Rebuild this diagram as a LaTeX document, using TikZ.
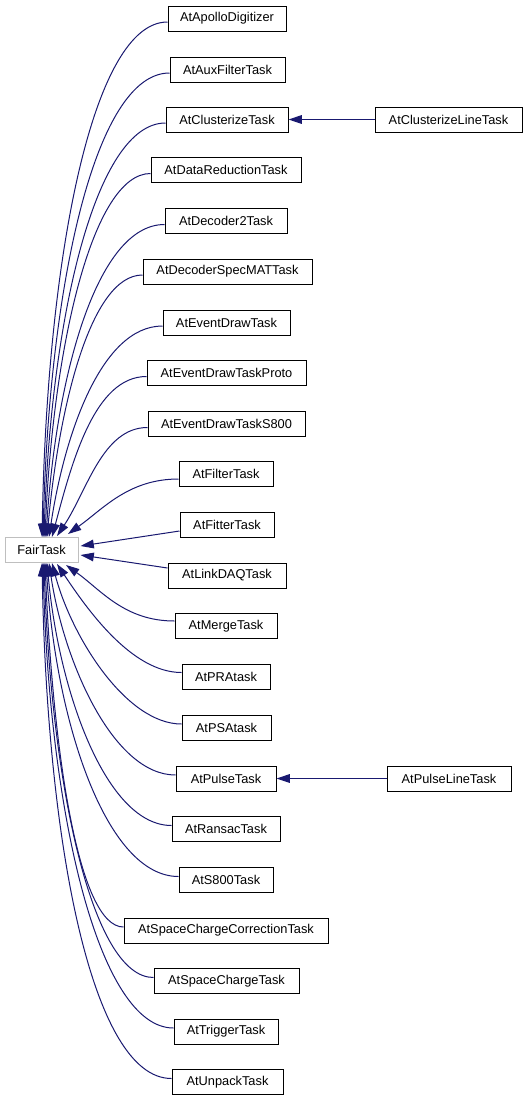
\documentclass[tikz,border=0pt]{standalone}
\usepackage{fontspec}
\setmainfont{Liberation Sans}
\usetikzlibrary{arrows.meta, calc}
\definecolor{EdgeBlue}{RGB}{25, 25, 112}
\definecolor{BaseGray}{RGB}{191, 191, 191}

\begin{document}
\begin{tikzpicture}[x=0.75pt, y=-0.75pt,
    cls/.style={draw=black, line width=0.75pt, minimum height=18.75pt, inner sep=0pt,
      font=\fontsize{9.6pt}{11pt}\selectfont},
    bw/.style={minimum width=#1*0.75pt},
    inh/.style={EdgeBlue, line width=0.75pt, -{Triangle[length=10pt, width=6.5pt]}}]
    \useasboundingbox (0,0) rectangle (528,1101);

    % Base class
    \node[cls, bw=73, draw=BaseGray] (fair) at (41.5,550) {FairTask};

    % Derived classes
    \node[cls, bw=118] (apollo) at (227,18.5) {AtApolloDigitizer};
    \node[cls, bw=115] (auxfilter) at (227.5,69.5) {AtAuxFilterTask};
    \node[cls, bw=122] (clusterize) at (227,119.5) {AtClusterizeTask};
    \node[cls, bw=150] (datared) at (226,170) {AtDataReductionTask};
    \node[cls, bw=122] (decoder2) at (226,221) {AtDecoder2Task};
    \node[cls, bw=169] (decspecmat) at (227.5,271.5) {AtDecoderSpecMATTask};
    \node[cls, bw=127] (evdraw) at (226.5,322.5) {AtEventDrawTask};
    \node[cls, bw=159] (evdrawproto) at (226.5,373) {AtEventDrawTaskProto};
    \node[cls, bw=157] (evdraws800) at (226.5,423.5) {AtEventDrawTaskS800};
    \node[cls, bw=94] (filter) at (226,474) {AtFilterTask};
    \node[cls, bw=94] (fitter) at (227,525) {AtFitterTask};
    \node[cls, bw=118] (linkdaq) at (227,575.5) {AtLinkDAQTask};
    \node[cls, bw=102] (merge) at (226,626) {AtMergeTask};
    \node[cls, bw=88] (pra) at (226,676.5) {AtPRAtask};
    \node[cls, bw=89] (psa) at (226.5,727.5) {AtPSAtask};
    \node[cls, bw=100] (pulse) at (226,778.5) {AtPulseTask};
    \node[cls, bw=108] (ransac) at (226,829) {AtRansacTask};
    \node[cls, bw=94] (s800) at (226,880) {AtS800Task};
    \node[cls, bw=204] (sccorr) at (226,930.5) {AtSpaceChargeCorrectionTask};
    \node[cls, bw=145] (spacecharge) at (226.5,981) {AtSpaceChargeTask};
    \node[cls, bw=104] (trigger) at (226,1031.5) {AtTriggerTask};
    \node[cls, bw=111] (unpack) at (227.5,1082) {AtUnpackTask};

    % Second level
    \node[cls, bw=147] (clusterizeline) at (448.5,119.5) {AtClusterizeLineTask};
    \node[cls, bw=124] (pulseline) at (449,778.5) {AtPulseLineTask};

    % Inheritance arrows, upper half
    \draw[inh] ($(apollo.west)+(0,3.5)$) .. controls +(-75,0) and +(5,-280) .. ($(fair.north)+(0.5,0)$);
    \draw[inh] ($(auxfilter.west)+(0,3.5)$) .. controls +(-75,0) and +(6,-250) .. ($(fair.north)+(1.5,0)$);
    \draw[inh] ($(clusterize.west)+(0,3.5)$) .. controls +(-70,0) and +(7,-220) .. ($(fair.north)+(2.5,0)$);
    \draw[inh] ($(datared.west)+(0,3.5)$) .. controls +(-58,0) and +(8,-190) .. ($(fair.north)+(3.5,0)$);
    \draw[inh] ($(decoder2.west)+(0,3.5)$) .. controls +(-68,0) and +(10,-160) .. ($(fair.north)+(4.5,0)$);
    \draw[inh] ($(decspecmat.west)+(0,3.5)$) .. controls +(-52,0) and +(12,-130) .. ($(fair.north)+(5.5,0)$);
    \draw[inh] ($(evdraw.west)+(0,3.5)$) .. controls +(-62,0) and +(15,-100) .. ($(fair.north)+(7.5,0)$);
    \draw[inh] ($(evdrawproto.west)+(0,3.5)$) .. controls +(-52,0) and +(20,-75) .. ($(fair.north)+(10.5,0)$);
    \draw[inh] ($(evdraws800.west)+(0,4)$) .. controls +(-45,0) and +(30,-45) .. ($(fair.north)+(15.5,-1)$);
    \draw[inh] ($(filter.west)+(0,5)$) .. controls +(-50,0) and +(35,-25) .. ($(fair.north)+(26.5,-3)$);
    \draw[inh] ($(fitter.west)+(0,6)$) -- ($(fair.east)+(2,-4)$);
    \draw[inh] ($(linkdaq.west)+(0,-7.5)$) -- ($(fair.east)+(2,5)$);

    % Inheritance arrows, lower half
    \draw[inh] ($(merge.west)+(0,-5)$) .. controls +(-50,0) and +(35,25) .. ($(fair.south)+(24.5,2)$);
    \draw[inh] ($(pra.west)+(0,-4)$) .. controls +(-50,0) and +(30,45) .. ($(fair.south)+(15.5,1)$);
    \draw[inh] ($(psa.west)+(0,-3.5)$) .. controls +(-55,0) and +(20,75) .. ($(fair.south)+(10.5,0)$);
    \draw[inh] ($(pulse.west)+(0,-3.5)$) .. controls +(-62,0) and +(15,100) .. ($(fair.south)+(7.5,0)$);
    \draw[inh] ($(ransac.west)+(0,-3.5)$) .. controls +(-65,0) and +(12,130) .. ($(fair.south)+(5.5,0)$);
    \draw[inh] ($(s800.west)+(0,-3.5)$) .. controls +(-72,0) and +(10,160) .. ($(fair.south)+(4.5,0)$);
    \draw[inh] ($(sccorr.west)+(0,-3.5)$) .. controls +(-45,0) and +(8,190) .. ($(fair.south)+(3.5,0)$);
    \draw[inh] ($(spacecharge.west)+(0,-3.5)$) .. controls +(-62,0) and +(7,220) .. ($(fair.south)+(2.5,0)$);
    \draw[inh] ($(trigger.west)+(0,-3.5)$) .. controls +(-75,0) and +(6,250) .. ($(fair.south)+(1.5,0)$);
    \draw[inh] ($(unpack.west)+(0,-3.5)$) .. controls +(-80,0) and +(5,280) .. ($(fair.south)+(0.5,0)$);

    % Second level arrows
    \draw[inh] (clusterizeline) -- (clusterize);
    \draw[inh] (pulseline) -- (pulse);
\end{tikzpicture}
\end{document}
